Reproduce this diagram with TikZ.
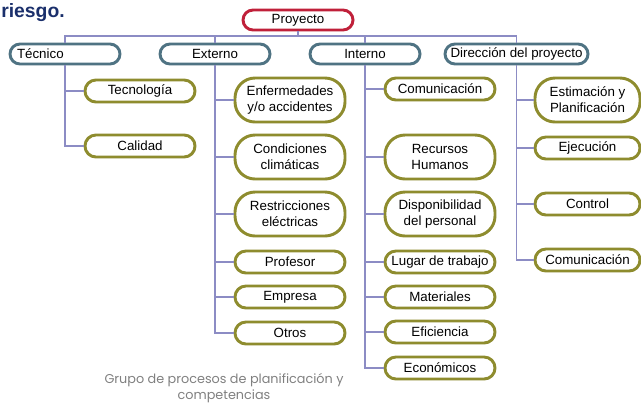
\documentclass[tikz,border=0pt]{standalone}
\usepackage{fontspec}
\setmainfont{Liberation Sans}
\newfontfamily\capfont{Poppins}
\usetikzlibrary{shadows}
\definecolor{redb}{HTML}{C0203A}
\definecolor{blueb}{HTML}{4F7383}
\definecolor{oliveb}{HTML}{8E8C2E}
\definecolor{linec}{HTML}{8C8CC4}
\definecolor{titlec}{HTML}{1A2F6B}
\definecolor{capc}{HTML}{808080}
\tikzset{
  box/.style={draw, fill=white, line width=2.2pt, inner sep=0pt, align=center,
    font=\fontsize{10}{12}\selectfont,
    drop shadow={opacity=0.18, shadow xshift=0.8pt, shadow yshift=-0.8pt}},
  topbox/.style={box, draw=redb, minimum width=110*0.75pt, minimum height=20*0.75pt, rounded corners=7.5pt},
  lvone/.style={box, draw=blueb, minimum width=110*0.75pt, minimum height=20*0.75pt, rounded corners=7.5pt},
  lvtwo/.style={box, draw=oliveb, minimum width=110*0.75pt, minimum height=22*0.75pt, rounded corners=8.2pt},
  lvtwotall/.style={box, draw=oliveb, minimum width=110*0.75pt, minimum height=44*0.75pt, rounded corners=15pt},
  conn/.style={draw=linec, line width=1pt},
}
\begin{document}
\begin{tikzpicture}[x=0.75pt, y=-0.75pt]
\useasboundingbox (0,0) rectangle (641,404);
% title
\node[anchor=base east, inner sep=0pt, font=\fontsize{14.5}{16}\selectfont\bfseries, text=titlec] (title) at (65,17.5) {riesgo.};
% top
\node[topbox] (proy) at (298,20) {Proyecto};
\node[lvone, text width=96*0.75pt, align=left] (tec) at (65,54) {Técnico};
\node[lvone] (ext) at (215,54) {Externo};
\node[lvone] (int) at (365,54) {Interno};
\node[lvone, minimum width=143*0.75pt] (dir) at (516.5,54) {Dirección del proyecto};
% tecnico
\node[lvtwo] (tecno) at (140,91) {Tecnología};
\node[lvtwo] (cal) at (140,146) {Calidad};
% externo
\node[lvtwotall] (enf) at (290,100) {Enfermedades\\y/o accidentes};
\node[lvtwotall] (cond) at (290,157) {Condiciones\\climáticas};
\node[lvtwotall] (rest) at (290,214) {Restricciones\\eléctricas};
\node[lvtwo] (prof) at (290,262) {Profesor};
\node[lvtwo] (emp) at (290,297) {Empresa};
\node[lvtwo] (otr) at (290,333) {Otros};
% interno
\node[lvtwo] (com) at (440,89) {Comunicación};
\node[lvtwotall] (rrhh) at (440,157) {Recursos\\Humanos};
\node[lvtwotall] (disp) at (440,214) {Disponibilidad\\del personal};
\node[lvtwo] (lug) at (440,262) {Lugar de trabajo};
\node[lvtwo] (mat) at (440,297) {Materiales};
\node[lvtwo] (efi) at (440,332) {Eficiencia};
\node[lvtwo] (eco) at (440,368) {Económicos};
% direccion
\node[lvtwotall, minimum width=105*0.75pt] (est) at (587.5,100) {Estimación y\\Planificación};
\node[lvtwo, minimum width=105*0.75pt] (eje) at (587.5,148) {Ejecución};
\node[lvtwo, minimum width=105*0.75pt] (ctl) at (587.5,204) {Control};
\node[lvtwo, minimum width=105*0.75pt] (comd) at (587.5,260) {Comunicación};
% caption
\node[font=\capfont\fontsize{9.6}{12}\selectfont, text=capc, align=center, inner sep=0pt] (cap) at (224,388) {Grupo de procesos de planificación y\\competencias};
% connectors
\coordinate (bus) at (298,36);
\draw[conn] (proy.south) -- (bus);
\draw[conn] (tec.north) -- (tec.north |- bus) -- (dir.north |- bus) -- (dir.north);
\draw[conn] (ext.north) -- (ext.north |- bus);
\draw[conn] (int.north) -- (int.north |- bus);
\draw[conn] (tec.south) |- (tecno.west);
\draw[conn] (tec.south) |- (cal.west);
\foreach \n in {enf,cond,rest,prof,emp,otr}{\draw[conn] (ext.south) |- (\n.west);}
\foreach \n in {com,rrhh,disp,lug,mat,efi,eco}{\draw[conn] (int.south) |- (\n.west);}
\foreach \n in {est,eje,ctl,comd}{\draw[conn] (dir.south) |- (\n.west);}
\end{tikzpicture}
\end{document}
